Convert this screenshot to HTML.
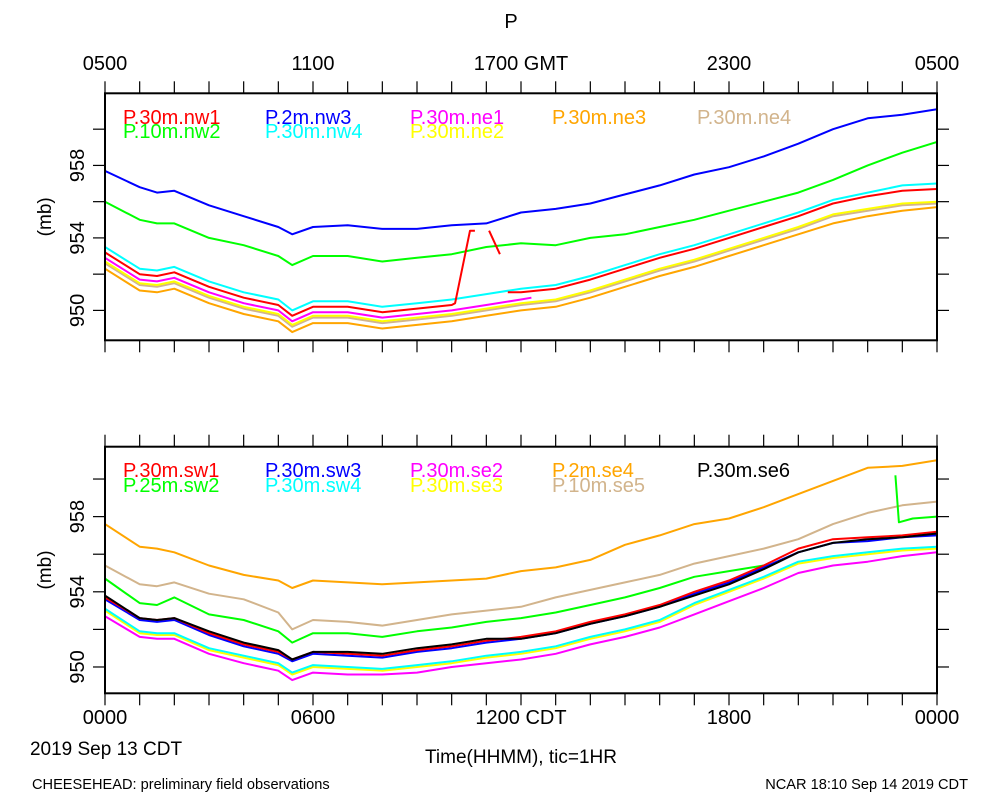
<!DOCTYPE html>
<html><head><meta charset="utf-8"><style>
body{margin:0;background:#fff;}
svg{display:block;font-family:"Liberation Sans",sans-serif;}
</style></head><body>
<svg id="chart" width="1000" height="800" viewBox="0 0 1000 800" xmlns="http://www.w3.org/2000/svg">
<text x="511" y="28" font-size="20" text-anchor="middle">P</text>
<text x="105" y="70" font-size="20" text-anchor="middle">0500</text>
<text x="313" y="70" font-size="20" text-anchor="middle">1100</text>
<text x="521" y="70" font-size="20" text-anchor="middle">1700 GMT</text>
<text x="729" y="70" font-size="20" text-anchor="middle">2300</text>
<text x="937" y="70" font-size="20" text-anchor="middle">0500</text>
<text x="105" y="724" font-size="20" text-anchor="middle">0000</text>
<text x="313" y="724" font-size="20" text-anchor="middle">0600</text>
<text x="521" y="724" font-size="20" text-anchor="middle">1200 CDT</text>
<text x="729" y="724" font-size="20" text-anchor="middle">1800</text>
<text x="937" y="724" font-size="20" text-anchor="middle">0000</text>
<text x="106" y="755" font-size="19" text-anchor="middle">2019 Sep 13 CDT</text>
<text x="521" y="763" font-size="19" text-anchor="middle">Time(HHMM), tic=1HR</text>
<text x="32" y="789" font-size="14.6">CHEESEHEAD: preliminary field observations</text>
<text x="968" y="789" font-size="14.6" text-anchor="end">NCAR 18:10 Sep 14 2019 CDT</text>
<g id="plots"></g>
</svg>
<script>
const hours=[0,1,1.5,2,3,4,5,5.4,6,7,8,9,10,11,12,13,14,15,16,17,18,19,20,21,22,23,24];
const tickLabels=["950","954","958"];
// top panel
const nw3=[957.7,956.8,956.5,956.6,955.8,955.2,954.6,954.2,954.6,954.7,954.5,954.5,954.7,954.8,955.4,955.6,955.9,956.4,956.9,957.5,957.9,958.5,959.2,960.0,960.6,960.8,961.1];
const nw2=[956.0,955.0,954.8,954.8,954.0,953.6,953.0,952.5,953.0,953.0,952.7,952.9,953.1,953.5,953.7,953.6,954.0,954.2,954.6,955.0,955.5,956.0,956.5,957.2,958.0,958.7,959.3];
const nw4=[953.5,952.3,952.2,952.4,951.6,951.0,950.6,950.0,950.5,950.5,950.2,950.4,950.6,950.9,951.2,951.4,951.9,952.5,953.1,953.6,954.2,954.8,955.4,956.1,956.5,956.9,957.0];
const nw1Hours=[0,1,1.5,2,3,4,5,5.4,6,7,8,9,10,10.1,10.53,10.67,null,11.08,11.39,null,11.62,12,13,14,15,16,17,18,19,20,21,22,23,24];
const nw1=[953.2,952.0,951.9,952.1,951.3,950.7,950.3,949.7,950.2,950.2,949.9,950.1,950.3,950.4,954.4,954.4,null,954.4,953.1,null,951.0,951.0,951.2,951.7,952.3,952.9,953.4,954.0,954.6,955.2,955.9,956.3,956.6,956.7];
const ne1Hours=[0,1,1.5,2,3,4,5,5.4,6,7,8,9,10,11,12,12.3];
const ne1=[952.9,951.7,951.6,951.8,951.0,950.4,950.0,949.4,949.9,949.9,949.6,949.8,950.0,950.3,950.6,950.7];
const ne2=[952.7,951.5,951.4,951.6,950.8,950.2,949.8,949.2,949.7,949.7,949.4,949.6,949.8,950.1,950.4,950.6,951.1,951.7,952.3,952.8,953.4,954.0,954.6,955.3,955.6,955.9,956.0];
const ne4=[952.6,951.4,951.3,951.5,950.7,950.1,949.7,949.1,949.6,949.6,949.3,949.5,949.7,950.0,950.3,950.5,951.0,951.6,952.2,952.7,953.3,953.9,954.5,955.2,955.5,955.8,955.9];
const ne3=[952.3,951.1,951.0,951.2,950.4,949.8,949.4,948.8,949.3,949.3,949.0,949.2,949.4,949.7,950.0,950.2,950.7,951.3,951.9,952.4,953.0,953.6,954.2,954.8,955.2,955.5,955.7];
// bottom panel
const se4=[957.6,956.4,956.3,956.1,955.4,954.9,954.6,954.2,954.6,954.5,954.4,954.5,954.6,954.7,955.1,955.3,955.7,956.5,957.0,957.6,957.9,958.5,959.2,959.9,960.6,960.7,961.0];
const se5=[955.4,954.4,954.3,954.5,953.9,953.6,952.9,952.0,952.5,952.4,952.2,952.5,952.8,953.0,953.2,953.7,954.1,954.5,954.9,955.5,955.9,956.3,956.8,957.6,958.2,958.6,958.8];
const sw2Hours=[0,1,1.5,2,3,4,5,5.4,6,7,8,9,10,11,12,13,14,15,16,17,18,19,null,22.8,22.9,23.3,24];
const sw2=[954.7,953.4,953.3,953.7,952.8,952.5,951.9,951.3,951.8,951.8,951.6,951.9,952.1,952.4,952.6,952.9,953.3,953.7,954.2,954.8,955.1,955.4,null,960.2,957.7,957.9,958.0];
const sw1=[953.7,952.6,952.5,952.6,951.8,951.2,950.8,950.4,950.8,950.7,950.6,950.9,951.1,951.4,951.6,951.9,952.4,952.8,953.3,954.0,954.6,955.4,956.3,956.8,956.9,957.0,957.2];
const sw3=[953.6,952.5,952.4,952.5,951.7,951.1,950.7,950.3,950.7,950.6,950.5,950.8,951.0,951.3,951.5,951.8,952.3,952.7,953.2,953.9,954.5,955.3,956.1,956.6,956.7,956.9,957.0];
const se6=[953.8,952.6,952.5,952.6,951.9,951.3,950.9,950.4,950.8,950.8,950.7,951.0,951.2,951.5,951.5,951.8,952.3,952.7,953.2,953.8,954.4,955.2,956.1,956.6,956.8,956.9,957.1];
const sw4=[953.1,951.9,951.8,951.8,951.0,950.6,950.2,949.7,950.1,950.0,949.9,950.1,950.3,950.6,950.8,951.1,951.6,952.0,952.5,953.4,954.1,954.8,955.6,955.9,956.1,956.3,956.4];
const se3=[953.0,951.8,951.7,951.7,950.9,950.5,950.1,949.6,950.0,949.9,949.8,950.0,950.2,950.5,950.7,951.0,951.5,951.9,952.4,953.3,954.0,954.7,955.5,955.8,956.0,956.2,956.3];
const se2=[952.7,951.6,951.5,951.5,950.7,950.2,949.8,949.3,949.7,949.6,949.6,949.7,950.0,950.2,950.4,950.7,951.2,951.6,952.1,952.8,953.5,954.2,955.0,955.4,955.6,955.9,956.1];

const NS="http://www.w3.org/2000/svg";
const root=document.getElementById('plots');
function mk(tag,attrs,parent){const e=document.createElementNS(NS,tag);for(const k in attrs)e.setAttribute(k,attrs[k]);(parent||root).appendChild(e);return e;}
const X0=105,X1=937;
function xScale(h){return X0+(X1-X0)*h/24;}

function panel(name,top,bot,vTop,vBot,series,legend){
  const g=mk('g',{});
  
  
  const yScale=v=>top+(vTop-v)/(vTop-vBot)*(bot-top);
  const clip=mk('clipPath',{id:'clip-'+name},g);
  mk('rect',{x:X0,y:top,width:X1-X0,height:bot-top},clip);
  for(let h=0;h<=24;h++){
    const x=xScale(h);
    const t1=mk('line',{x1:x,x2:x,y1:top-12,y2:top,stroke:'#000','stroke-width':1.2},g);
    
    
    const t2=mk('line',{x1:x,x2:x,y1:bot,y2:bot+12,stroke:'#000','stroke-width':1.2},g);
    
    
  }
  for(let v=950;v<=960;v+=2){
    const y=yScale(v);
    const t=mk('line',{x1:X0-12,x2:X0,y1:y,y2:y,stroke:'#000','stroke-width':1.2},g);
    
    
    const t2=mk('line',{x1:X1,x2:X1+12,y1:y,y2:y,stroke:'#000','stroke-width':1.2},g);
    
    
  }
  tickLabels.forEach(l=>{
    const y=yScale(+l);
    const t=mk('text',{x:0,y:0,'font-size':20,'text-anchor':'middle',transform:`translate(84 ${y}) rotate(-90)`},g);
    t.textContent=l;
    
    
  });
  const yt=mk('text',{x:0,y:0,'font-size':19,'text-anchor':'middle',transform:`translate(51 ${(top+bot)/2}) rotate(-90)`},g);
  yt.textContent='(mb)';
  
  
  const lg=mk('g',{'clip-path':`url(#clip-${name})`},g);
  series.forEach(s=>{
    const hs=s.h||hours;
    let d='',pen=false;
    s.v.forEach((v,i)=>{
      if(v===null||hs[i]===null){pen=false;return;}
      d+=(pen?'L':'M')+xScale(hs[i]).toFixed(1)+' '+yScale(v).toFixed(1);
      pen=true;
    });
    const p=mk('path',{d:d,fill:'none',stroke:s.c,'stroke-width':2,'stroke-linejoin':'round'},lg);
    
    
  });
  const box=mk('rect',{x:X0,y:top,width:X1-X0,height:bot-top,fill:'none',stroke:'#000','stroke-width':2},g);
  
  
  legend.forEach(e=>{
    const t=mk('text',{x:e.x,y:e.y,'font-size':20,fill:e.c},g);
    t.textContent=e.t;
    
    
  });
}
const lx=[123,265,410,552,697];
panel('top-panel',93.3,340.3,961.98,948.35,[
 {n:'nw3',c:'#0000ff',v:nw3},{n:'nw2',c:'#00ff00',v:nw2},
 {n:'ne3',c:'#ffa500',v:ne3},{n:'ne4',c:'#d2b48c',v:ne4},{n:'ne2',c:'#ffff00',v:ne2},
 {n:'ne1',c:'#ff00ff',v:ne1,h:ne1Hours},{n:'nw4',c:'#00ffff',v:nw4},{n:'nw1',c:'#ff0000',v:nw1,h:nw1Hours}
],[
 {t:'P.30m.nw1',c:'#ff0000',x:lx[0],y:124},{t:'P.10m.nw2',c:'#00ff00',x:lx[0],y:138},
 {t:'P.2m.nw3',c:'#0000ff',x:lx[1],y:124},{t:'P.30m.nw4',c:'#00ffff',x:lx[1],y:138},
 {t:'P.30m.ne1',c:'#ff00ff',x:lx[2],y:124},{t:'P.30m.ne2',c:'#ffff00',x:lx[2],y:138},
 {t:'P.30m.ne3',c:'#ffa500',x:lx[3],y:124},{t:'P.30m.ne4',c:'#d2b48c',x:lx[4],y:124}
]);
panel('bottom-panel',446.7,693.3,961.72,948.6,[
 {n:'se4',c:'#ffa500',v:se4},{n:'se5',c:'#d2b48c',v:se5},{n:'sw2',c:'#00ff00',v:sw2,h:sw2Hours},
 {n:'se2',c:'#ff00ff',v:se2},{n:'se3',c:'#ffff00',v:se3},{n:'sw4',c:'#00ffff',v:sw4},
 {n:'sw3',c:'#0000ff',v:sw3},{n:'sw1',c:'#ff0000',v:sw1},{n:'se6',c:'#000000',v:se6}
],[
 {t:'P.30m.sw1',c:'#ff0000',x:lx[0],y:477},{t:'P.25m.sw2',c:'#00ff00',x:lx[0],y:492},
 {t:'P.30m.sw3',c:'#0000ff',x:lx[1],y:477},{t:'P.30m.sw4',c:'#00ffff',x:lx[1],y:492},
 {t:'P.30m.se2',c:'#ff00ff',x:lx[2],y:477},{t:'P.30m.se3',c:'#ffff00',x:lx[2],y:492},
 {t:'P.2m.se4',c:'#ffa500',x:lx[3],y:477},{t:'P.10m.se5',c:'#d2b48c',x:lx[3],y:492},
 {t:'P.30m.se6',c:'#000000',x:lx[4],y:477}
]);
</script>
</body></html>
